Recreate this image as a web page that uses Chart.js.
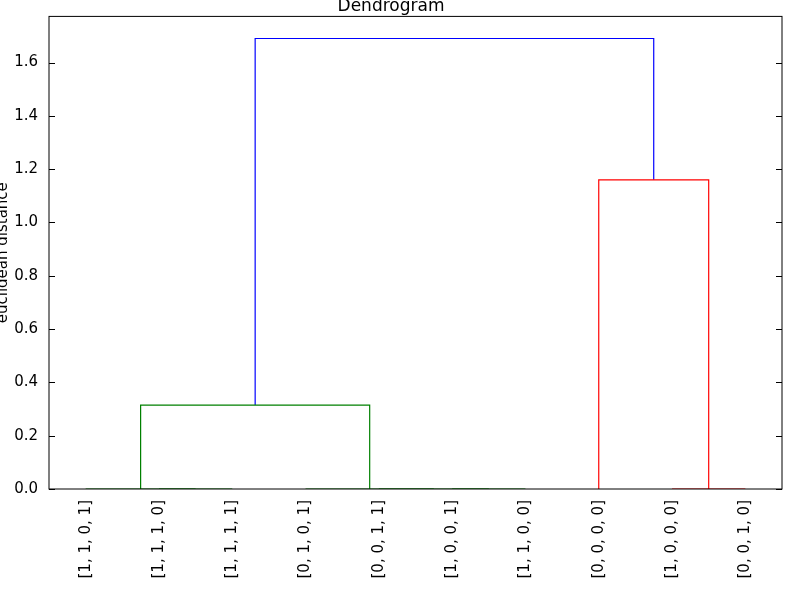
<!DOCTYPE html>
<html>
<head>
<script src="https://cdn.jsdelivr.net/npm/chart.js@4"></script>
<style>body{margin:0;background:#fff}</style>
</head>
<body>
<canvas id="c" width="800" height="600"></canvas>
<script>
// leaves and tick positions
const leafLabels = ['[1, 1, 0, 1]', '[1, 1, 1, 0]', '[1, 1, 1, 1]', '[0, 1, 0, 1]', '[0, 0, 1, 1]',
    '[1, 0, 0, 1]', '[1, 1, 0, 0]', '[0, 0, 0, 0]', '[1, 0, 0, 0]', '[0, 0, 1, 0]'];
const leafPos = [5, 15, 25, 35, 45, 55, 65, 75, 85, 95];
const yTicks = [0, 0.2, 0.4, 0.6, 0.8, 1.0, 1.2, 1.4, 1.6];

// links: [left x, right x], [left bottom, height, right bottom]
const linkX = [[15, 25], [5, 20], [55, 65], [45, 60], [35, 52.5], [12.5, 43.75], [85, 95], [75, 90], [28.125, 82.5]];
const linkY = [[0, 0, 0], [0, 0, 0], [0, 0, 0], [0, 0, 0], [0, 0, 0], [0, 0.315, 0], [0, 0, 0], [0, 1.16, 0], [0.315, 1.69, 1.16]];
const linkColor = ['green', 'green', 'green', 'green', 'green', 'green', 'red', 'red', 'blue'];
const colors = {green: '#008000', red: '#ff0000', blue: '#0000ff'};

const datasets = linkX.map((x, i) => ({
    data: [{x: x[0], y: linkY[i][0]}, {x: x[0], y: linkY[i][1]}, {x: x[1], y: linkY[i][1]}, {x: x[1], y: linkY[i][2]}],
    showLine: true,
    borderColor: colors[linkColor[i]],
    borderWidth: 1.2,
    pointRadius: 0,
    tension: 0
}));

const frame = {
    id: 'frame',
    afterDraw(chart) {
        const {ctx, chartArea: a, scales} = chart;
        ctx.save();
        ctx.strokeStyle = '#000';
        ctx.lineWidth = 1;
        ctx.strokeRect(a.left, a.top, a.right - a.left, a.bottom - a.top);
        ctx.beginPath();
        yTicks.forEach(t => {
            const y = Math.round(scales.y.getPixelForValue(t)) + 0.5;
            ctx.moveTo(a.left, y); ctx.lineTo(a.left + 6, y);
            ctx.moveTo(a.right, y); ctx.lineTo(a.right - 6, y);
        });
        ctx.stroke();
        ctx.restore();
    }
};

const font = {family: 'DejaVu Sans', size: 15};

new Chart(document.getElementById('c'), {
    type: 'scatter',
    data: {datasets: datasets},
    options: {
        responsive: false,
        animation: false,
        layout: {padding: {right: 18}},
        plugins: {
            legend: {display: false},
            tooltip: {enabled: false},
            title: {display: true, text: 'Dendrogram', color: '#000', font: {family: 'DejaVu Sans', size: 17, weight: 'normal'}, padding: {top: -4, bottom: 0}}
        },
        scales: {
            x: {
                min: 0, max: 100,
                grid: {display: false},
                border: {display: false},
                afterBuildTicks: s => { s.ticks = leafPos.map(v => ({value: v})); },
                afterFit: s => { s.height = 111; },
                ticks: {
                    color: '#000', font: font,
                    maxRotation: 90, minRotation: 90, autoSkip: false,
                    callback: (v, i) => leafLabels[i]
                }
            },
            y: {
                min: 0, max: 1.773,
                grid: {display: false},
                border: {display: false},
                afterBuildTicks: s => { s.ticks = yTicks.map(v => ({value: v})); },
                afterFit: s => { s.width = 49; },
                title: {display: true, text: 'euclidean distance', color: '#000', font: font, padding: {top: -6, bottom: 0}},
                ticks: {color: '#000', font: font, callback: v => v.toFixed(1)}
            }
        }
    },
    plugins: [frame]
});
</script>
</body>
</html>
